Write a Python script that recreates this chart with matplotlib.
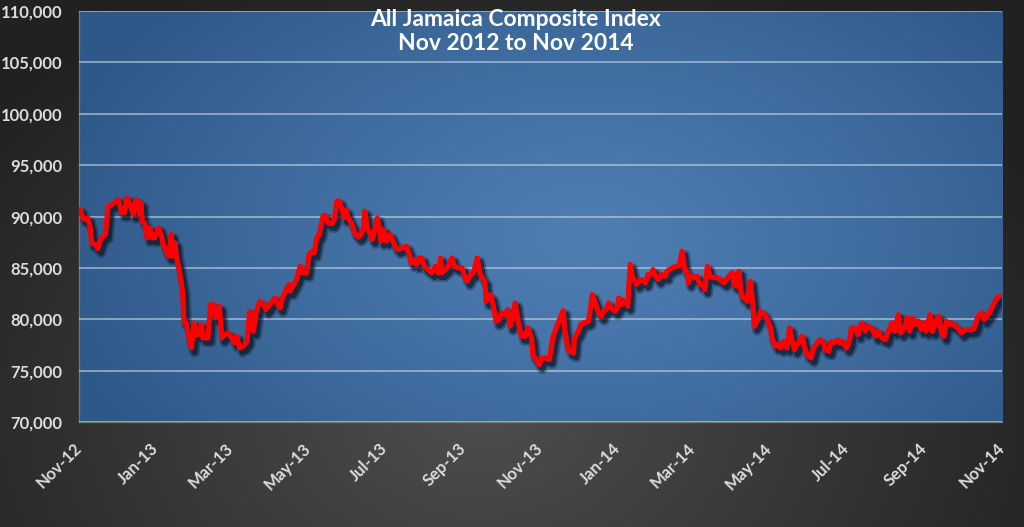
import numpy as np
import pandas as pd
import matplotlib
matplotlib.use("Agg")
import matplotlib.pyplot as plt
import matplotlib.dates as mdates
import matplotlib.patheffects as pe
from matplotlib.ticker import FuncFormatter, MultipleLocator

plt.rcParams['font.family'] = ['Lato', 'DejaVu Sans']

# Index readings, keyed by days since 1 Nov 2012
start_date = "2012-11-01"
day_offset = [
    1, 3, 5, 7, 9, 10, 13, 15, 17, 19, 21, 23, 26, 28, 31, 34, 36, 38, 40, 43,
    45, 47, 48, 49, 50, 52, 54, 56, 58, 60, 63, 65, 67, 69, 71, 73, 74, 76, 77, 79,
    82, 83, 85, 87, 89, 91, 92, 94, 97, 98, 101, 102, 104, 106, 108, 111, 113, 115, 118, 121,
    123, 125, 127, 130, 133, 135, 137, 138, 140, 143, 146, 148, 151, 153, 155, 158, 159, 161, 164, 166,
    167, 170, 172, 175, 177, 180, 182, 184, 186, 188, 190, 193, 195, 197, 200, 202, 204, 206, 208, 210,
    211, 213, 216, 218, 221, 223, 225, 226, 228, 230, 232, 234, 236, 238, 239, 241, 243, 246, 248, 250,
    252, 255, 259, 261, 263, 265, 267, 269, 271, 273, 276, 279, 282, 284, 286, 287, 290, 292, 295, 297,
    300, 303, 305, 307, 309, 312, 315, 317, 319, 321, 322, 324, 326, 328, 330, 332, 334, 337, 339, 341,
    343, 345, 347, 350, 353, 355, 358, 359, 361, 364, 366, 369, 372, 375, 378, 380, 383, 384, 386, 388,
    391, 392, 395, 397, 399, 403, 405, 406, 408, 411, 413, 415, 417, 419, 421, 424, 426, 427, 429, 432,
    434, 436, 438, 441, 443, 445, 448, 450, 452, 454, 456, 458, 461, 464, 465, 467, 470, 473, 475, 477,
    479, 481, 482, 484, 486, 489, 491, 493, 495, 497, 499, 502, 504, 507, 510, 512, 515, 517, 518, 520,
    522, 524, 526, 528, 531, 533, 534, 537, 539, 541, 544, 547, 548, 551, 553, 555, 557, 560, 562, 564,
    566, 568, 570, 572, 574, 576, 579, 581, 583, 586, 589, 590, 593, 595, 597, 600, 602, 604, 607, 609,
    611, 614, 616, 619, 622, 624, 627, 630, 632, 635, 638, 640, 643, 645, 648, 650, 653, 655, 657, 659,
    661, 664, 666, 668, 670, 673, 675, 678, 680, 682, 684, 686, 688, 690, 693, 695, 698, 701, 703, 706,
    708, 711, 714, 716, 718, 720, 722, 724, 726, 728,
]
index_value = [
    90700, 89870, 89700, 89870, 88900, 87430, 87270, 86880, 87760, 88090,
    88250, 91000, 91170, 91330, 91660, 90360, 90360, 91820, 91330, 90200,
    91660, 91330, 90200, 91330, 89550, 89380, 87920, 88900, 87920, 87920,
    88900, 88250, 87110, 86620, 86140, 88250, 86140, 87430, 86140, 85000,
    82730, 79800, 79640, 78180, 77200, 79640, 78500, 78500, 79480, 78180,
    78180, 78180, 81430, 81430, 80130, 81270, 78180, 78500, 78670, 78180,
    77690, 78340, 77200, 77370, 77850, 80780, 80290, 78830, 80620, 81750,
    81430, 80940, 81430, 81750, 82080, 81270, 81100, 82080, 82890, 83380,
    82730, 83380, 83860, 85160, 84510, 84510, 86300, 86620, 86460, 87920,
    88250, 90030, 90130, 89380, 89290, 89710, 91490, 91490, 90680, 89870,
    90680, 89870, 89220, 88410, 87990, 88250, 88900, 90520, 88900, 88410,
    87760, 88740, 89870, 88570, 87600, 88740, 87600, 88250, 87760, 87110,
    86780, 86940, 87110, 86460, 85490, 85810, 85330, 85970, 85970, 85160,
    84840, 84510, 85160, 84510, 85970, 84510, 84840, 85160, 85970, 85160,
    85000, 85000, 84190, 83700, 84190, 84510, 85970, 84510, 84030, 83700,
    81750, 82400, 82240, 81100, 79800, 79970, 80620, 80450, 80940, 79320,
    80130, 81590, 79970, 78340, 78340, 79160, 78180, 76560, 76230, 75580,
    76230, 76230, 76070, 78340, 79320, 79970, 80840, 79160, 77530, 76880,
    76720, 78180, 78830, 79480, 79640, 79800, 81430, 82400, 81750, 80620,
    80290, 80780, 80940, 81590, 81100, 80780, 81100, 82080, 81430, 81750,
    81270, 85330, 84030, 83380, 83700, 83860, 83540, 84350, 84350, 84840,
    84190, 83860, 84350, 84190, 84680, 84840, 85060, 85160, 85330, 86620,
    84840, 84610, 83540, 84190, 84030, 84190, 83380, 83380, 82890, 85160,
    84190, 84030, 84100, 83860, 83540, 83860, 84350, 84510, 83380, 83210,
    84680, 82240, 82080, 81750, 83700, 81430, 79320, 79970, 80780, 80620,
    80130, 79160, 78180, 77370, 77530, 77200, 77850, 77200, 79160, 78020,
    77040, 77530, 77850, 78340, 77200, 76560, 76230, 77200, 77530, 78020,
    77690, 77040, 76880, 77850, 77690, 78020, 77690, 77850, 77200, 77690,
    79160, 79160, 78500, 79640, 78830, 79320, 79160, 78340, 78830, 78180,
    78020, 78830, 79640, 78830, 80450, 78670, 79160, 80130, 78830, 80130,
    79480, 79810, 78990, 79640, 78830, 80450, 78830, 79810, 80290, 78830,
    78340, 79810, 79480, 79640, 79320, 79160, 78670, 78990, 78990, 78990,
    79090, 80290, 80620, 79970, 80290, 80620, 81100, 81590, 82080, 82240,
]

title_lines = ["All Jamaica Composite Index", "Nov 2012 to Nov 2014"]
y_min, y_max, y_step = 70000, 110000, 5000
x_start, x_end = "2012-11-01", "2014-11-01"

dates = pd.Timestamp(start_date) + pd.to_timedelta(day_offset, unit="D")

fig = plt.figure(figsize=(10.24, 5.27), dpi=100)

# --- dark figure background, radial gradient ---
bg = fig.add_axes([0, 0, 1, 1], zorder=-10)
gx, gy = np.meshgrid(np.linspace(0, 1, 400), np.linspace(0, 1, 200))
r = np.sqrt(((gx - 0.47) / 0.62) ** 2 + ((gy - 0.22) / 0.9) ** 2)
r = np.clip(r, 0, 1)
c_in = np.array([0x4e, 0x4e, 0x4e]) / 255
c_out = np.array([0x21, 0x21, 0x21]) / 255
img = c_in[None, None, :] * (1 - r[..., None]) + c_out[None, None, :] * r[..., None]
bg.imshow(img, extent=[0, 1, 0, 1], aspect="auto", origin="lower")
bg.axis("off")

ax = fig.add_axes([0.0771, 0.1992, 0.9014, 0.7799])
ax.set_facecolor("none")

# --- blue plot-area gradient ---
px, py = np.meshgrid(np.linspace(0, 1, 400), np.linspace(0, 1, 200))
rp = np.sqrt(((px - 0.55) / 0.6) ** 2 + ((py - 0.45) / 0.85) ** 2)
rp = np.clip(rp, 0, 1) ** 1.2
b_in = np.array([0x4f, 0x7e, 0xb3]) / 255
b_out = np.array([0x2e, 0x58, 0x88]) / 255
pimg = b_in[None, None, :] * (1 - rp[..., None]) + b_out[None, None, :] * rp[..., None]
ax.imshow(pimg, extent=[0, 1, 0, 1], transform=ax.transAxes,
          aspect="auto", origin="lower", zorder=0)

# gridlines
ax.yaxis.grid(True, color="#c8d4e4", linewidth=1.1, alpha=0.75, zorder=1)
ax.set_axisbelow(False)

ax.plot(dates, index_value, color="#ff0000", linewidth=3.7, zorder=3,
        solid_joinstyle="round", solid_capstyle="round",
        path_effects=[
            pe.SimpleLineShadow(offset=(2.2, -3.0), shadow_color="#0a1322", alpha=0.3, linewidth=7.5),
            pe.SimpleLineShadow(offset=(2.2, -3.0), shadow_color="#0a1322", alpha=0.6, linewidth=4.5),
            pe.Normal(),
        ])

ax.set_xlim(pd.Timestamp(x_start), pd.Timestamp(x_end))
ax.set_ylim(y_min, y_max)
ax.yaxis.set_major_locator(MultipleLocator(y_step))
ax.yaxis.set_major_formatter(FuncFormatter(lambda v, p: f"{v:,.0f}"))
ax.xaxis.set_major_locator(mdates.MonthLocator(bymonth=[1, 3, 5, 7, 9, 11]))
ax.xaxis.set_major_formatter(mdates.DateFormatter("%b-%y"))

ax.tick_params(axis="both", length=0, colors="#dcdcdc")
ax.tick_params(axis="y", pad=12, labelsize=12)
ax.tick_params(axis="x", pad=17, labelsize=12)
for lbl in ax.get_yticklabels():
    lbl.set_fontweight("bold")
for lbl in ax.get_xticklabels():
    lbl.set_fontweight("bold")
    lbl.set_rotation(45)
    lbl.set_ha("right")
    lbl.set_va("center")
    lbl.set_rotation_mode("anchor")

for side in ["top", "right"]:
    ax.spines[side].set_visible(False)
for side in ["left", "bottom"]:
    ax.spines[side].set_color("#6f8060")
    ax.spines[side].set_linewidth(0.9)

ax.text(0.473, 1.004, "\n".join(title_lines), transform=ax.transAxes,
        ha="center", va="top", color="white", fontsize=16.5,
        fontweight="bold", linespacing=1.15, zorder=5)

fig.savefig("out.png", dpi=100)
